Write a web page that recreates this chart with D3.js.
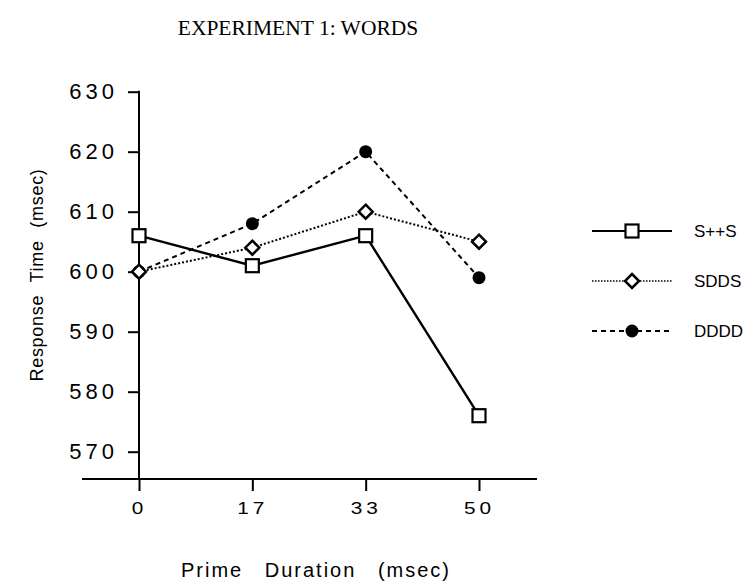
<!DOCTYPE html>
<html>
<head>
<meta charset="utf-8">
<script src="https://cdn.jsdelivr.net/npm/d3@7"></script>
<style>
  body { margin: 0; background: #fff; }
  svg { display: block; }
  text { font-family: "Liberation Sans", Arial, sans-serif; fill: #000; }
</style>
</head>
<body>
<svg id="chart" width="749" height="581"></svg>
<script>
// ---- data ----
const primeDurations = ["0", "17", "33", "50"];
const yTicks = [570, 580, 590, 600, 610, 620, 630];
const seriesNames = ["S++S", "SDDS", "DDDD"];
const valuesSPPS = [606, 601, 606, 576];
const valuesSDDS = [600, 604, 610, 605];
const valuesDDDD = [600, 608, 620, 599];

const series = [
  { name: seriesNames[0], values: valuesSPPS, dash: null, width: 2.4, marker: "square" },
  { name: seriesNames[1], values: valuesSDDS, dash: "2,2", width: 2, marker: "diamond" },
  { name: seriesNames[2], values: valuesDDDD, dash: "5,4", width: 2, marker: "circle" }
];

const svg = d3.select("#chart");

const x = d3.scalePoint().domain(primeDurations).range([139, 479]);
const y = d3.scaleLinear().domain([570, 630]).range([451.7, 91.7]);
const xAxisY = 479;

// title
svg.append("text")
  .attr("x", 298).attr("y", 35)
  .attr("text-anchor", "middle")
  .style("font-family", "'Liberation Serif', 'Times New Roman', serif")
  .style("font-size", "21.5px")
  .text("EXPERIMENT 1: WORDS");

// y axis
const yAxisG = svg.append("g").attr("transform", "translate(139,0)")
  .call(d3.axisLeft(y).tickValues(yTicks).tickSize(11).tickPadding(10).tickFormat(d3.format("d")));
yAxisG.select(".domain").remove();
yAxisG.selectAll(".tick line").attr("stroke", "#000").attr("stroke-width", 2);
yAxisG.selectAll(".tick text")
  .style("font-size", "22px").style("letter-spacing", "4px")
  .attr("font-family", null);
svg.append("line").attr("x1", 139).attr("x2", 139).attr("y1", y(630) - 1).attr("y2", xAxisY)
  .attr("stroke", "#000").attr("stroke-width", 2);

// x axis
const xAxisG = svg.append("g").attr("transform", `translate(0,${xAxisY})`)
  .call(d3.axisBottom(x).tickSize(12).tickPadding(12));
xAxisG.select(".domain").remove();
xAxisG.selectAll(".tick line").attr("stroke", "#000").attr("stroke-width", 2);
xAxisG.selectAll(".tick text")
  .style("font-size", "16px").style("letter-spacing", "3px")
  .attr("transform", "scale(1.3,1)")
  .attr("font-family", null);
svg.append("line").attr("x1", 82).attr("x2", 537).attr("y1", xAxisY).attr("y2", xAxisY)
  .attr("stroke", "#000").attr("stroke-width", 2);

// axis titles
svg.append("text")
  .attr("x", 316).attr("y", 577)
  .attr("text-anchor", "middle")
  .style("font-size", "20px")
  .style("letter-spacing", "2px")
  .style("word-spacing", "14px")
  .text("Prime Duration (msec)");

svg.append("text")
  .attr("transform", "translate(43,275) rotate(-90)")
  .attr("text-anchor", "middle")
  .style("font-size", "18px")
  .style("letter-spacing", "0.7px")
  .style("word-spacing", "7px")
  .text("Response Time (msec)");

// markers
function drawMarker(g, type, cx, cy) {
  if (type === "square") {
    g.append("rect").attr("x", cx - 6.5).attr("y", cy - 6.5).attr("width", 13).attr("height", 13)
      .attr("fill", "#fff").attr("stroke", "#000").attr("stroke-width", 2.2);
  } else if (type === "diamond") {
    const r = 7;
    g.append("path").attr("d", `M${cx},${cy - r}L${cx + r},${cy}L${cx},${cy + r}L${cx - r},${cy}Z`)
      .attr("fill", "#fff").attr("stroke", "#000").attr("stroke-width", 2.5);
  } else {
    g.append("circle").attr("cx", cx).attr("cy", cy).attr("r", 6.5).attr("fill", "#000");
  }
}

const line = d3.line().x((d, i) => x(primeDurations[i])).y(d => y(d));

// draw series (lines first, then markers; solid series on top of others)
const drawOrder = [2, 1, 0];
drawOrder.forEach(si => {
  const s = series[si];
  svg.append("path").datum(s.values).attr("d", line)
    .attr("fill", "none").attr("stroke", "#000").attr("stroke-width", s.width)
    .attr("stroke-dasharray", s.dash);
});
drawOrder.forEach(si => {
  const s = series[si];
  const g = svg.append("g");
  s.values.forEach((v, i) => drawMarker(g, s.marker, x(primeDurations[i]), y(v)));
});

// legend
const legendY = [231, 281, 331];
series.forEach((s, i) => {
  const g = svg.append("g");
  g.append("line").attr("x1", 592).attr("x2", 672).attr("y1", legendY[i]).attr("y2", legendY[i])
    .attr("stroke", "#000").attr("stroke-width", i === 1 ? 1.5 : 2.2)
    .attr("stroke-dasharray", i === 1 ? "1.5,1.5" : s.dash);
  drawMarker(g, s.marker, 632, legendY[i]);
  g.append("text").attr("x", 694).attr("y", legendY[i] + 6)
    .style("font-size", "17px")
    .text(s.name);
});
</script>
</body>
</html>
